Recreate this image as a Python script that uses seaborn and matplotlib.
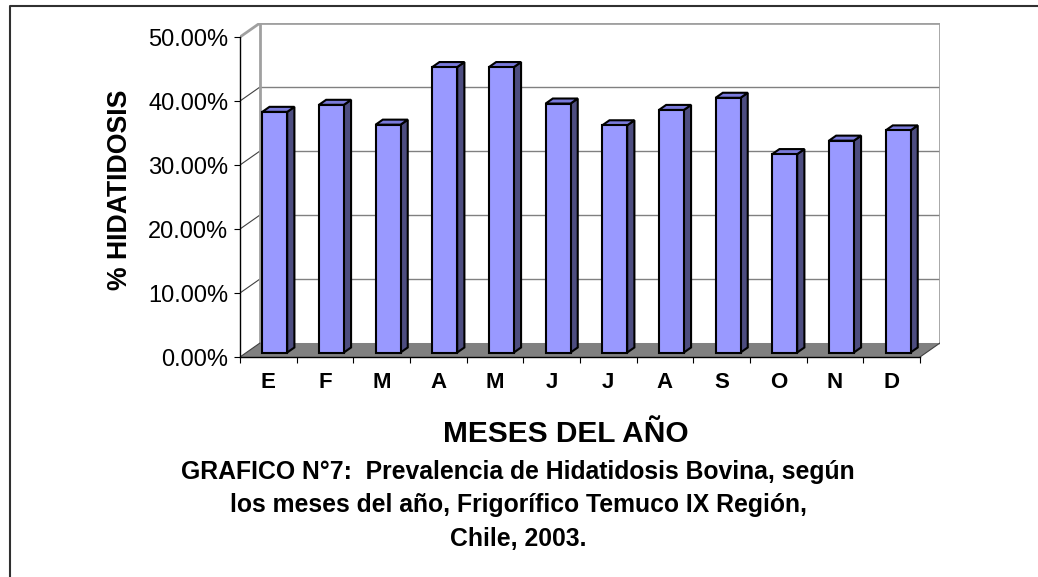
import numpy as np
import pandas as pd
import matplotlib
matplotlib.use("Agg")
import matplotlib.pyplot as plt
from matplotlib.patches import Polygon
from matplotlib.lines import Line2D
from matplotlib.ticker import FuncFormatter
import seaborn as sns

# ---------------- data ----------------
months = ["E", "F", "M", "A", "M", "J", "J", "A", "S", "O", "N", "D"]
prevalence = [37.6, 38.7, 35.6, 44.6, 44.6, 38.9, 35.5, 37.9, 39.8, 31.0, 33.1, 34.7]
y_ticks = [0, 10, 20, 30, 40, 50]
x_label = "MESES DEL AÑO"
y_label = "% HIDATIDOSIS"
title_lines = ["GRAFICO N°7:  Prevalencia de Hidatidosis Bovina, según",
               "los meses del año, Frigorífico Temuco IX Región,",
               "Chile, 2003."]

# ---------------- style ----------------
sns.set_style("white")
plt.rcParams["font.family"] = ["Liberation Sans", "DejaVu Sans"]
plt.rcParams["text.color"] = "black"
plt.rcParams["axes.labelcolor"] = "black"
plt.rcParams["xtick.color"] = "black"
plt.rcParams["ytick.color"] = "black"
plt.rcParams["xtick.labelcolor"] = "black"
plt.rcParams["ytick.labelcolor"] = "black"

W, H = 1038, 577
fig = plt.figure(figsize=(W / 100, H / 100), dpi=100)

# axes placed so that front axis spans pixels x 240..920, y 357..37
px_left, px_right, px_top, px_bottom = 240, 940, 23, 357
ax = fig.add_axes([px_left / W, 1 - px_bottom / H,
                   (px_right - px_left) / W, (px_bottom - px_top) / H])

n = len(months)
depth_dx = 0.353   # full depth offset (category units)
depth_dy = 2.19    # full depth offset (percent units)
ymax = 50

df = pd.DataFrame({"pos": list(range(n)), "val": prevalence})
bar_w = 0.44
sns.barplot(data=df, x="pos", y="val", order=list(range(n)), width=bar_w,
            color="#9999FF", saturation=1, errorbar=None,
            edgecolor="black", linewidth=1.5, ax=ax, zorder=5)

ax.set_xlim(-0.5, n - 0.5 + depth_dx)
ax.set_ylim(0, ymax + depth_dy)

# back wall
wall_x0, wall_x1 = -0.5 + depth_dx, n - 0.5 + depth_dx
wall_y0, wall_y1 = depth_dy, ymax + depth_dy
for v in y_ticks[1:-1]:
    ax.plot([wall_x0, wall_x1], [v + depth_dy, v + depth_dy], color="#808080", lw=1.0, zorder=1)
    ax.plot([-0.5, wall_x0], [v, v + depth_dy], color="#404040", lw=0.8, zorder=1)
# wall outline (gray)
ax.plot([wall_x0, wall_x0, wall_x1, wall_x1], [wall_y0, wall_y1, wall_y1, wall_y0],
        color="#A0A0A0", lw=2.0, zorder=1, solid_joinstyle="miter")
ax.plot([-0.5, wall_x0], [ymax, wall_y1], color="#A0A0A0", lw=2.0, zorder=1)

# floor
floor = Polygon([(-0.5, 0), (n - 0.5, 0), (n - 0.5 + depth_dx, depth_dy), (wall_x0, depth_dy)],
                closed=True, facecolor="#808080", edgecolor="none", zorder=2)
ax.add_patch(floor)
ax.plot([-0.5, wall_x0], [0, depth_dy], color="#404040", lw=0.8, zorder=2)
ax.plot([n - 0.5, n - 0.5 + depth_dx], [0, depth_dy], color="#404040", lw=0.8, zorder=2)

# 3D bars: shift front faces to mid-depth and add side/top faces
front_frac = 0.32
bar_depth = 0.36
shift_x = front_frac * depth_dx
base_y = front_frac * depth_dy
ddx = bar_depth * depth_dx
ddy = bar_depth * depth_dy
for p in list(ax.patches):
    if p is floor:
        continue
    x0 = p.get_x() + shift_x
    h = p.get_height()
    p.set_x(x0)
    p.set_y(base_y)
    x1 = x0 + p.get_width()
    y0 = base_y
    y1 = base_y + h
    p.set_joinstyle("miter")
    side = Polygon([(x1, y0), (x1 + ddx, y0 + ddy), (x1 + ddx, y1 + ddy), (x1, y1)],
                   closed=True, facecolor="#4D4D80", edgecolor="black", lw=1.5,
                   joinstyle="miter", zorder=4)
    top = Polygon([(x0, y1), (x1, y1), (x1 + ddx, y1 + ddy), (x0 + ddx, y1 + ddy)],
                  closed=True, facecolor="#7A7ADB", edgecolor="black", lw=1.5,
                  joinstyle="miter", zorder=4)
    ax.add_patch(side)
    ax.add_patch(top)

# spines
for s in ["top", "right"]:
    ax.spines[s].set_visible(False)
ax.spines["left"].set_bounds(0, ymax)
ax.spines["bottom"].set_bounds(-0.5, n - 0.5)
for s in ["left", "bottom"]:
    ax.spines[s].set_color("black")
    ax.spines[s].set_linewidth(1.0)
    ax.spines[s].set_zorder(6)

# ticks
ax.set_yticks(y_ticks)
ax.yaxis.set_major_formatter(FuncFormatter(lambda v, _: f"{v:.2f}%"))
ax.tick_params(axis="y", which="major", direction="out", length=4.5, width=0.8,
               color="black", labelcolor="black", labelsize=17, pad=4, left=True)
ax.set_xticks(range(n))
ax.set_xticklabels(months, fontweight="bold")
ax.set_xticks(np.arange(-0.5, n, 1), minor=True)
ax.tick_params(axis="x", which="major", length=0, labelsize=16, pad=11, labelcolor="black")
ax.tick_params(axis="x", which="minor", direction="out", length=4.5, width=0.8,
               color="black", bottom=True)
ax.grid(False)

ax.set_xlabel(x_label, fontsize=21.5, fontweight="bold", va="center", color="black")
ax.xaxis.set_label_coords((566 - px_left) / (px_right - px_left),
                          (px_bottom - 434) / (px_bottom - px_top))
ax.set_ylabel(y_label, fontsize=19.2, fontweight="bold", va="center", color="black")
ax.yaxis.set_label_coords((120 - px_left) / (px_right - px_left), 0.5)

fig.text(518 / W, 1 - 505 / H, "\n".join(title_lines), ha="center", va="center",
         multialignment="center", fontsize=17.8, fontweight="bold", linespacing=1.5,
         color="black")

# outer frame (left and top edges visible)
fig.add_artist(Line2D([9.5 / W, 9.5 / W, 1.0], [0.0, 1 - 5.5 / H, 1 - 5.5 / H],
                      transform=fig.transFigure, color="#303030", lw=1.5))

fig.savefig("out.png", dpi=100)
